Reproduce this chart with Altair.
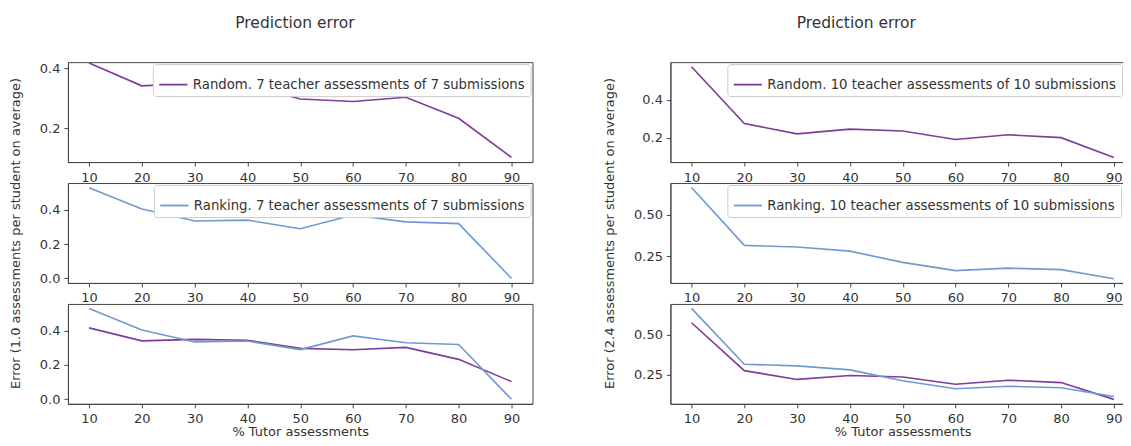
import altair as alt
import pandas as pd

pct = [10, 20, 30, 40, 50, 60, 70, 80, 90]
random_7 = [0.417, 0.341, 0.35, 0.345, 0.297, 0.289, 0.303, 0.233, 0.103]
ranking_7 = [0.53, 0.405, 0.335, 0.34, 0.29, 0.37, 0.33, 0.32, 0.0]
random_10 = [0.575, 0.275, 0.22, 0.245, 0.235, 0.19, 0.215, 0.2, 0.095]
ranking_10 = [0.665, 0.315, 0.305, 0.28, 0.212, 0.162, 0.177, 0.168, 0.113]

lab_r7 = "Random. 7 teacher assessments of 7 submissions"
lab_k7 = "Ranking. 7 teacher assessments of 7 submissions"
lab_r10 = "Random. 10 teacher assessments of 10 submissions"
lab_k10 = "Ranking. 10 teacher assessments of 10 submissions"

ylab_left = "Error (1.0 assessments per student on average)"
ylab_right = "Error (2.4 assessments per student on average)"
xlab = "% Tutor assessments"
title_txt = "Prediction error"

C_RANDOM = "#7d3c9a"
C_RANKING = "#6f9ad0"

FONT = "DejaVu Sans"
FS = 13
LFS = 13.3
TXT = "#333333"
AX = "#444444"


def frame(series_pairs):
    rows = []
    for name, vals in series_pairs:
        for p, v in zip(pct, vals):
            rows.append({"pct": p, "value": v, "series": name})
    return pd.DataFrame(rows)


def axis(values, fmt, pad, title=None, title_pad=0):
    kw = dict(values=values, format=fmt, grid=False, tickSize=4,
              labelPadding=pad, labelFontSize=FS, labelFont=FONT,
              labelColor=TXT, domainColor=AX, tickColor=AX, labelFlush=False)
    if title:
        kw.update(title=title, titleFontSize=FS, titleFont=FONT,
                  titleFontWeight="normal", titleColor=TXT,
                  titlePadding=title_pad)
    else:
        kw.update(title=None)
    return alt.Axis(**kw)


def make_legend(pos):
    kw = dict(title=None, strokeColor="#cccccc", fillColor="white", padding=5,
              cornerRadius=3, labelFontSize=LFS, labelFont=FONT,
              labelColor=TXT, symbolType="stroke",
              symbolStrokeWidth=1.8, symbolSize=800, labelLimit=600)
    if pos == "tr":
        kw.update(orient="top-right", offset=2)
    else:
        kw.update(orient="none", legendX=pos[0], legendY=pos[1])
    return alt.Legend(**kw)


def panel(pairs, colors, ydomain, yticks, yfmt, legend_pos=None, xtitle=None, ytitle=None):
    df = frame(pairs)
    names = [n for n, _ in pairs]
    leg = make_legend(legend_pos) if legend_pos is not None else None
    return alt.Chart(df).mark_line(strokeWidth=1.6, clip=True).encode(
        x=alt.X("pct:Q", scale=alt.Scale(domain=[6, 94], nice=False, zero=False),
                axis=axis(pct, "d", 5, xtitle, 0)),
        y=alt.Y("value:Q", scale=alt.Scale(domain=ydomain, nice=False, zero=False),
                axis=axis(yticks, yfmt, 4, ytitle, 17)),
        color=alt.Color("series:N", scale=alt.Scale(domain=names, range=colors), legend=leg),
    ).properties(width=465, height=100)


def group(p1, p2, p3, dx):
    return alt.vconcat(
        p1, p2, p3, spacing=21, bounds="flush",
        title=alt.Title(title_txt, fontSize=15.5, font=FONT, fontWeight="normal",
                        color=TXT, anchor="middle", offset=30, dx=dx),
    ).resolve_scale(color="independent", y="independent").resolve_legend(color="independent")


left = group(
    panel([(lab_r7, random_7)], [C_RANDOM], [0.087, 0.42], [0.2, 0.4], ".1f", "tr"),
    panel([(lab_k7, ranking_7)], [C_RANKING], [-0.027, 0.557], [0.0, 0.2, 0.4], ".1f", "tr", ytitle=ylab_left),
    panel([(lab_r7, random_7), (lab_k7, ranking_7)], [C_RANDOM, C_RANKING], [-0.027, 0.557], [0.0, 0.2, 0.4], ".1f", None, xtitle=xlab),
    24,
)
right = group(
    panel([(lab_r10, random_10)], [C_RANDOM], [0.071, 0.599], [0.2, 0.4], ".1f", (57, 2)),
    panel([(lab_k10, ranking_10)], [C_RANKING], [0.0875, 0.6925], [0.25, 0.5], ".2f", (57, 2), ytitle=ylab_right),
    panel([(lab_r10, random_10), (lab_k10, ranking_10)], [C_RANDOM, C_RANKING], [0.067, 0.693], [0.25, 0.5], ".2f", None, xtitle=xlab),
    -13,
)

chart = alt.hconcat(left, right, spacing=69).resolve_scale(
    color="independent", y="independent"
).resolve_legend(color="independent").configure_view(
    stroke=AX, strokeWidth=1
).properties(padding={"left": 0, "top": 8, "right": -13, "bottom": 0})

chart.save("out.html", embed_options={"renderer": "svg", "actions": False})
